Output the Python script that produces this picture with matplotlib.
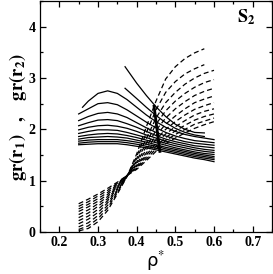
import matplotlib
matplotlib.use("Agg")
import matplotlib.pyplot as plt
from matplotlib.ticker import MultipleLocator

plt.rcParams['mathtext.fontset'] = 'stix'
plt.rcParams['font.family'] = 'Liberation Serif'

# density grid used by the curves
rho = [0.25, 0.275, 0.30, 0.325, 0.35, 0.375, 0.40, 0.425,
       0.45, 0.475, 0.50, 0.525, 0.55, 0.575, 0.60]

# gr(r1): solid curves, two short ones starting at rho = 0.37
rho_short = [0.37, 0.40, 0.425, 0.45, 0.475, 0.50, 0.525, 0.55, 0.575]
g1_short = [
    [3.22, 2.90, 2.66, 2.44, 2.25, 2.10, 2.00, 1.94, 1.93],
    [2.80, 2.60, 2.43, 2.27, 2.13, 2.02, 1.94, 1.89, 1.86],
]
rho_s3 = [0.26, 0.275, 0.30, 0.325, 0.35, 0.375, 0.40, 0.425,
          0.45, 0.475, 0.50, 0.525, 0.55, 0.575, 0.60]
g1_s3 = [2.43, 2.55, 2.70, 2.75, 2.70, 2.58, 2.43, 2.28,
         2.15, 2.04, 1.96, 1.90, 1.86, 1.83, 1.80]
g1 = [
    [2.30, 2.40, 2.50, 2.52, 2.48, 2.38, 2.26, 2.14, 2.03, 1.94, 1.87, 1.82, 1.78, 1.76, 1.74],
    [2.17, 2.25, 2.31, 2.33, 2.30, 2.23, 2.13, 2.03, 1.94, 1.87, 1.81, 1.76, 1.73, 1.71, 1.69],
    [2.07, 2.13, 2.18, 2.19, 2.17, 2.11, 2.04, 1.96, 1.88, 1.81, 1.76, 1.72, 1.68, 1.66, 1.64],
    [1.99, 2.04, 2.07, 2.08, 2.06, 2.02, 1.96, 1.89, 1.83, 1.77, 1.72, 1.68, 1.64, 1.61, 1.59],
    [1.92, 1.96, 1.99, 1.99, 1.98, 1.94, 1.89, 1.84, 1.78, 1.73, 1.68, 1.64, 1.60, 1.57, 1.55],
    [1.86, 1.89, 1.91, 1.92, 1.91, 1.88, 1.84, 1.79, 1.74, 1.69, 1.64, 1.60, 1.56, 1.53, 1.51],
    [1.81, 1.84, 1.85, 1.86, 1.85, 1.83, 1.79, 1.75, 1.70, 1.65, 1.61, 1.57, 1.53, 1.50, 1.47],
    [1.77, 1.79, 1.80, 1.80, 1.80, 1.78, 1.75, 1.71, 1.67, 1.62, 1.58, 1.54, 1.50, 1.47, 1.44],
    [1.73, 1.75, 1.76, 1.76, 1.76, 1.74, 1.71, 1.67, 1.63, 1.59, 1.55, 1.51, 1.47, 1.44, 1.41],
    [1.70, 1.71, 1.72, 1.72, 1.72, 1.70, 1.67, 1.64, 1.60, 1.56, 1.52, 1.48, 1.44, 1.41, 1.37],
]

# gr(r2): dashed curves (first two end at rho = 0.575)
g2 = [
    [0.02, 0.07, 0.20, 0.42, 0.74, 1.08, 1.52, 2.05, 2.55, 2.98, 3.22, 3.38, 3.49, 3.57],
    [0.05, 0.12, 0.26, 0.47, 0.77, 1.08, 1.47, 1.93, 2.38, 2.72, 2.93, 3.08, 3.18, 3.26],
    [0.10, 0.18, 0.32, 0.52, 0.80, 1.09, 1.43, 1.82, 2.22, 2.52, 2.72, 2.88, 3.00, 3.09, 3.15],
    [0.16, 0.25, 0.38, 0.57, 0.82, 1.09, 1.39, 1.73, 2.10, 2.36, 2.55, 2.70, 2.82, 2.91, 2.97],
    [0.22, 0.31, 0.44, 0.61, 0.85, 1.09, 1.36, 1.66, 1.98, 2.22, 2.40, 2.54, 2.66, 2.74, 2.80],
    [0.28, 0.37, 0.50, 0.65, 0.87, 1.10, 1.33, 1.60, 1.88, 2.10, 2.26, 2.40, 2.52, 2.59, 2.65],
    [0.34, 0.43, 0.55, 0.69, 0.89, 1.10, 1.30, 1.54, 1.80, 2.00, 2.15, 2.28, 2.39, 2.46, 2.52],
    [0.40, 0.49, 0.60, 0.73, 0.91, 1.10, 1.28, 1.50, 1.73, 1.91, 2.05, 2.17, 2.28, 2.35, 2.40],
    [0.45, 0.54, 0.65, 0.77, 0.93, 1.10, 1.26, 1.46, 1.67, 1.84, 1.97, 2.08, 2.18, 2.25, 2.30],
    [0.50, 0.59, 0.70, 0.81, 0.95, 1.10, 1.24, 1.42, 1.62, 1.78, 1.90, 2.00, 2.10, 2.16, 2.22],
    [0.55, 0.64, 0.74, 0.85, 0.97, 1.10, 1.22, 1.39, 1.57, 1.72, 1.83, 1.93, 2.02, 2.09, 2.15],
]

# locus of crossings
cross_rho = [0.445, 0.46]
cross_g = [2.45, 1.57]

fig = plt.figure(figsize=(2.73, 2.74), dpi=100)
ax = fig.add_axes([0.1465, 0.1533, 0.8498, 0.843])

lw = 0.9
for ys in g1_short:
    ax.plot(rho_short, ys, color='black', lw=lw)
ax.plot(rho_s3, g1_s3, color='black', lw=lw)
for ys in g1:
    ax.plot(rho, ys, color='black', lw=lw)
for ys in g2:
    ax.plot(rho[:len(ys)], ys, color='black', lw=lw, linestyle=(0, (4, 2.5)))
ax.plot(cross_rho, cross_g, color='black', lw=2.0)

ax.set_xlim(0.15, 0.75)
ax.set_ylim(0, 4.5)
ax.xaxis.set_minor_locator(MultipleLocator(0.05))
ax.yaxis.set_major_locator(MultipleLocator(1))
ax.yaxis.set_minor_locator(MultipleLocator(0.5))
ax.set_xticks([0.2, 0.3, 0.4, 0.5, 0.6, 0.7])
ax.set_xticklabels(['0.2', '0.3', '0.4', '0.5', '0.6', '0.7'])
ax.tick_params(which='both', direction='in', top=True, right=True, width=0.9)
ax.tick_params(which='major', length=4.5, labelsize=10, pad=3)
ax.tick_params(which='minor', length=2.5)
for lab in ax.get_xticklabels() + ax.get_yticklabels():
    lab.set_fontweight('bold')
for sp in ax.spines.values():
    sp.set_linewidth(0.9)

ax.set_xlabel('ρ$^{*}$', fontfamily='DejaVu Sans', fontsize=13, labelpad=0)
ax.set_ylabel(r'$\mathbf{gr(r_1)\ \ \ ,\ \ \ gr(r_2)}$', fontsize=13.5, labelpad=0)
ax.text(0.93, 0.93, r'$\mathbf{S_2}$', transform=ax.transAxes,
        fontsize=13, ha='right', va='center')

fig.savefig('out.png', dpi=100)
